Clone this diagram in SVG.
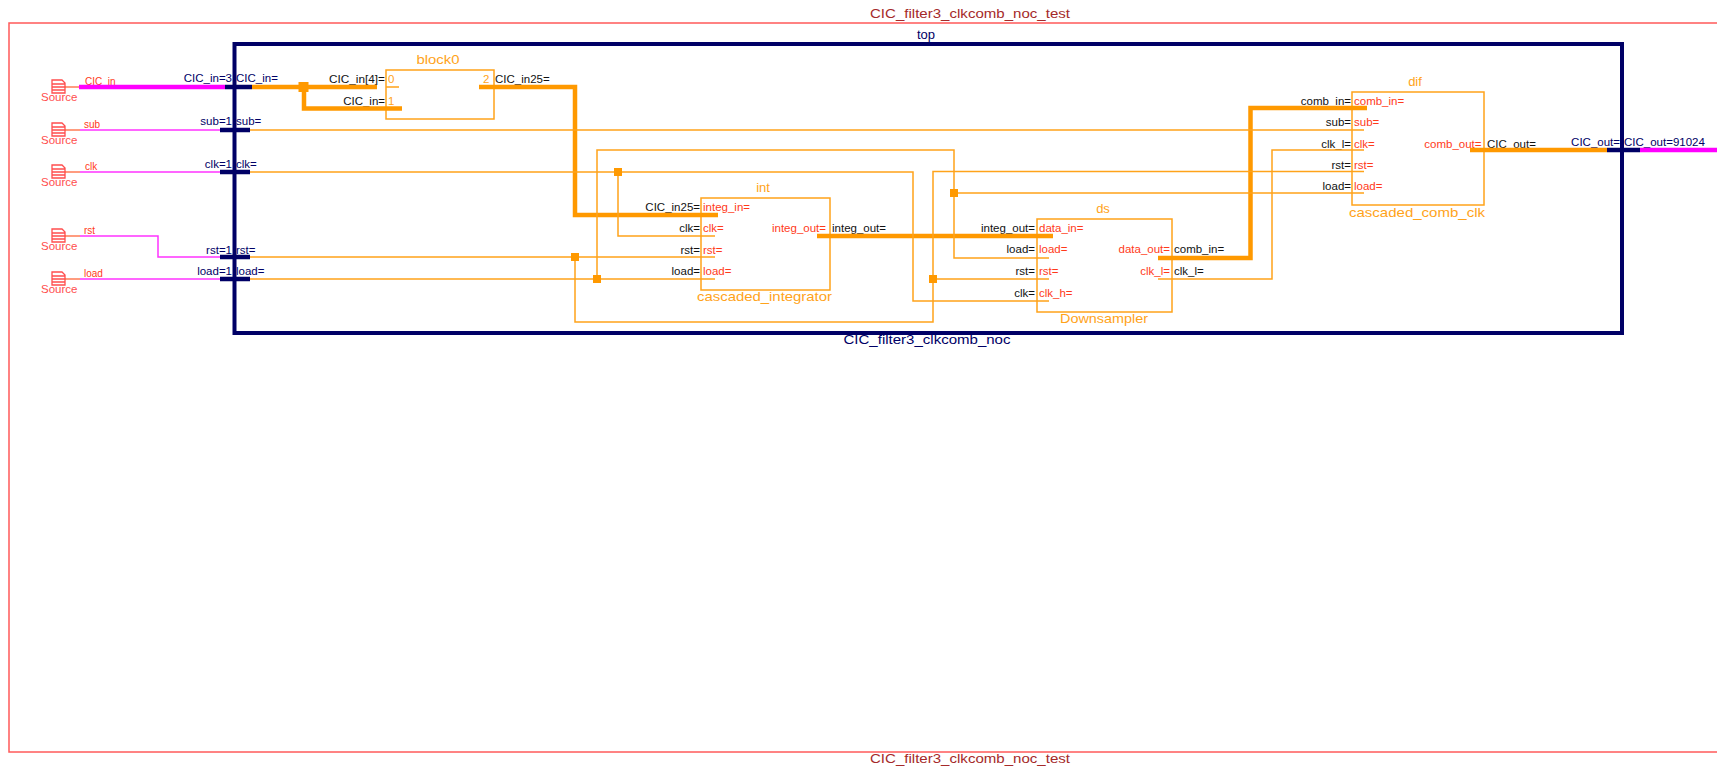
<svg xmlns="http://www.w3.org/2000/svg" width="1717" height="769" viewBox="0 0 1717 769">
<style>
text{font-family:"Liberation Sans",Arial,sans-serif;font-size:11.5px}
.e{text-anchor:end}.m{text-anchor:middle}
.k{fill:#111}.r{fill:#ff3a1a}.o{fill:#ffa31a}.n{fill:#000066}.t{fill:#a52a2a;font-size:13px}
.big{font-size:13px}
.sl{fill:#ff3a1a;font-size:10px}.ss{fill:#ff4d4d;font-size:11.5px}
.box{fill:none;stroke:#ffa31a;stroke-width:1.5}
.w{fill:none;stroke:#ffa31a;stroke-width:1.5}
.W{fill:none;stroke:#ff9900;stroke-width:4.5}
.mg{fill:none;stroke:#ff33ff;stroke-width:1.5}
.MG{fill:none;stroke:#ff00ff;stroke-width:4.5}
.p{fill:none;stroke:#000066;stroke-width:4.5}
.st{fill:none;stroke:#ff5a2a;stroke-width:1.2}
.ic{fill:#fff;stroke:#ff4d4d;stroke-width:1.3}
.j{fill:#ff9900}
</style>
<defs>
<g id="icon"><path class="ic" d="M52 -7H62L65 -4V6H52ZM52 -3H65M52 0H65M52 3H65"/><path class="st" d="M65 0H80"/></g>
</defs>
<g id="test">
<rect x="9" y="23" width="1760" height="729" fill="none" stroke="#ff5a5a" stroke-width="1.5"/>
<text class="t m" x="970" y="18" textLength="200" lengthAdjust="spacingAndGlyphs">CIC_filter3_clkcomb_noc_test</text>
<text class="t m" x="970" y="763" textLength="200" lengthAdjust="spacingAndGlyphs">CIC_filter3_clkcomb_noc_test</text>
</g>
<g id="top">
<rect x="234.500" y="44" width="1387.500" height="289" fill="none" stroke="#000066" stroke-width="4"/>
<text class="n m big" x="926" y="39">top</text>
<text class="n m big" x="927" y="344" textLength="167" lengthAdjust="spacingAndGlyphs">CIC_filter3_clkcomb_noc</text>
<text class="n e" x="232" y="82">CIC_in=3</text><text class="n" x="236" y="82">CIC_in=</text>
<text class="n e" x="232" y="125">sub=1</text><text class="n" x="236" y="125">sub=</text>
<text class="n e" x="232" y="168">clk=1</text><text class="n" x="236" y="168">clk=</text>
<text class="n e" x="232" y="254">rst=1</text><text class="n" x="236" y="254">rst=</text>
<text class="n e" x="232" y="275">load=1</text><text class="n" x="236" y="275">load=</text>
<text class="n e" x="1620" y="146">CIC_out=</text><text class="n" x="1624" y="146">CIC_out=91024</text>
</g>
<g id="src_CIC_in"><use href="#icon" y="87"/><text class="ss" x="41" y="101">Source</text><text class="sl" x="85" y="85">CIC_in</text></g>
<g id="src_sub"><use href="#icon" y="130"/><text class="ss" x="41" y="144">Source</text><text class="sl" x="84" y="128">sub</text></g>
<g id="src_clk"><use href="#icon" y="172"/><text class="ss" x="41" y="186">Source</text><text class="sl" x="85" y="170">clk</text></g>
<g id="src_rst"><use href="#icon" y="236"/><text class="ss" x="41" y="250">Source</text><text class="sl" x="84" y="234">rst</text></g>
<g id="src_load"><use href="#icon" y="279"/><text class="ss" x="41" y="293">Source</text><text class="sl" x="84" y="277">load</text></g>
<g id="block0">
<rect class="box" x="386" y="70" width="108" height="49"/>
<text class="o m big" x="438" y="64" textLength="43" lengthAdjust="spacingAndGlyphs">block0</text>
<text class="k e" x="385" y="83" textLength="56" lengthAdjust="spacingAndGlyphs">CIC_in[4]=</text><text class="k e" x="385" y="105">CIC_in=</text>
<text class="o" x="388" y="83">0</text><text class="o" x="388" y="105">1</text><text class="o" x="483" y="83">2</text>
<text class="k" x="495" y="83">CIC_in25=</text>
</g>
<g id="int">
<rect class="box" x="701" y="198" width="129" height="92"/>
<text class="o m big" x="763" y="192">int</text>
<text class="o m big" x="764.500" y="301" textLength="135" lengthAdjust="spacingAndGlyphs">cascaded_integrator</text>
<text class="k e" x="700" y="211">CIC_in25=</text><text class="k e" x="700" y="232">clk=</text><text class="k e" x="700" y="254">rst=</text><text class="k e" x="700" y="275">load=</text>
<text class="r" x="703" y="211">integ_in=</text><text class="r" x="703" y="232">clk=</text><text class="r" x="703" y="254">rst=</text><text class="r" x="703" y="275">load=</text>
<text class="r e" x="826" y="232">integ_out=</text><text class="k" x="832" y="232">integ_out=</text>
</g>
<g id="ds">
<rect class="box" x="1037" y="219" width="135" height="93"/>
<text class="o m big" x="1103" y="213">ds</text>
<text class="o m big" x="1104" y="323" textLength="88" lengthAdjust="spacingAndGlyphs">Downsampler</text>
<text class="k e" x="1035" y="232">integ_out=</text><text class="k e" x="1035" y="253">load=</text><text class="k e" x="1035" y="275">rst=</text><text class="k e" x="1035" y="297">clk=</text>
<text class="r" x="1039" y="232">data_in=</text><text class="r" x="1039" y="253">load=</text><text class="r" x="1039" y="275">rst=</text><text class="r" x="1039" y="297">clk_h=</text>
<text class="r e" x="1170" y="253">data_out=</text><text class="r e" x="1170" y="275">clk_l=</text>
<text class="k" x="1174" y="253">comb_in=</text><text class="k" x="1174" y="275">clk_l=</text>
</g>
<g id="dif">
<rect class="box" x="1352" y="92" width="132" height="113"/>
<text class="o m big" x="1415" y="86">dif</text>
<text class="o m big" x="1417" y="217" textLength="136" lengthAdjust="spacingAndGlyphs">cascaded_comb_clk</text>
<text class="k e" x="1351" y="105">comb_in=</text><text class="k e" x="1351" y="126">sub=</text><text class="k e" x="1351" y="148">clk_l=</text><text class="k e" x="1351" y="169">rst=</text><text class="k e" x="1351" y="190">load=</text>
<text class="r" x="1354" y="105">comb_in=</text><text class="r" x="1354" y="126">sub=</text><text class="r" x="1354" y="148">clk=</text><text class="r" x="1354" y="169">rst=</text><text class="r" x="1354" y="190">load=</text>
<text class="r e" x="1481.500" y="148">comb_out=</text><text class="k" x="1487" y="148">CIC_out=</text>
</g>
<g id="connectors">
<path class="MG" d="M79 87H225M1640 150H1717"/>
<path class="mg" d="M80 130H220M80 172H220M80 236H158V257H220M80 279H220"/>
<path class="W" d="M252 87H377M304 87V108.500H402M479 87H575V215H718M817 236H1053M1158 258H1250.500V108H1367M1470 150H1607"/>
<path class="w" d="M386 87H399M250 130H1364M250 172H913V301H1049M618 172V236H715M250 257H715M575 257V322H933V171.500H1364M250 279H715M597 279V150H954V258H1049M954 193H1364M933 279H1049M1158 279H1272V150H1364"/>
<path class="p" d="M225 87H252M220 130H250M220 172H250M220 257H250M220 279H250M1607 150H1640"/>
<rect class="j" x="298.500" y="82" width="10" height="10"/>
<rect class="j" x="614" y="168" width="8" height="8"/>
<rect class="j" x="571" y="253" width="8" height="8"/>
<rect class="j" x="593" y="275" width="8" height="8"/>
<rect class="j" x="950" y="189" width="8" height="8"/>
<rect class="j" x="929" y="275" width="8" height="8"/>
</g>
</svg>
